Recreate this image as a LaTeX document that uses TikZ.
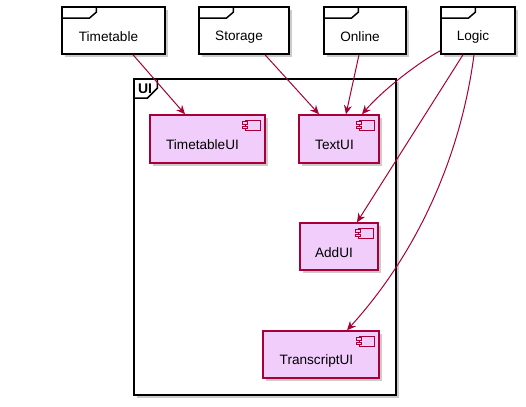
\documentclass[tikz,border=0pt]{standalone}
\usepackage{fontspec}
\setmainfont{Liberation Sans}
\usetikzlibrary{arrows.meta,calc,shadows}
\definecolor{crim}{HTML}{A80036}
\definecolor{compfill}{HTML}{F1CDFC}
\newcommand\cicon[1]{%
  \draw[crim, line width=1pt, fill=compfill] ($(#1.north east)+(-20,6)$) rectangle ++(15,10);
  \draw[crim, line width=1pt, fill=compfill] ($(#1.north east)+(-23,7.5)$) rectangle ++(5,2.5);
  \draw[crim, line width=1pt, fill=compfill] ($(#1.north east)+(-23,12)$) rectangle ++(5,2.5);
}
\newcommand\ftab[1]{%
  \draw[black, line width=1.5pt] ($(#1.north west)+(0,12)$) -- ++(28,0) -- ++(7,-6) -- ++(0,-6);
}
\begin{document}
\begin{tikzpicture}[x=1pt,y=-1pt,
  shad/.style={drop shadow={shadow xshift=3pt, shadow yshift=-3pt, fill=black!45, opacity=0.45}},
  frm/.style={draw=black, line width=1.5pt, fill=white, inner sep=0pt, shad},
  comp/.style={draw=crim, line width=1.5pt, fill=compfill, inner sep=0pt, shad},
  lbl/.style={inner sep=0pt, font=\fontsize{13.6}{16}\selectfont},
  arr/.style={draw=crim, line width=1pt, -{Stealth[length=9pt,width=8pt,inset=3pt]}}]
\useasboundingbox (0,0) rectangle (526,406);

% UI package
\node[frm, minimum width=262pt, minimum height=316pt] (ui) at (265,237) {};
\draw[black, line width=1.5pt] ($(ui.north west)+(0,20)$) -- ++(14,0) -- ++(10,-10) -- ++(0,-10);
\node[inner sep=0pt, font=\fontsize{14}{16}\selectfont\bfseries] (uil) at (145,89) {UI};

% frames
\node[frm, minimum width=103pt, minimum height=47pt] (tt) at (113.5,30.5) {};
\node[frm, minimum width=90pt, minimum height=47pt] (st) at (244,30.5) {};
\node[frm, minimum width=82pt, minimum height=47pt] (on) at (365,30.5) {};
\node[frm, minimum width=74pt, minimum height=47pt] (lg) at (478,30.5) {};
\ftab{tt}\ftab{st}\ftab{on}\ftab{lg}
\node[lbl] (ttl) at (108.5,37) {Timetable};
\node[lbl] (stl) at (239,37) {Storage};
\node[lbl] (onl) at (360,37) {Online};
\node[lbl] (lgl) at (473,37) {Logic};

% components
\node[comp, minimum width=115pt, minimum height=48pt] (tui) at (207.5,139) {};
\node[comp, minimum width=80pt, minimum height=48pt] (xui) at (339,139) {};
\node[comp, minimum width=78pt, minimum height=47pt] (aui) at (339,246.5) {};
\node[comp, minimum width=116pt, minimum height=47pt] (rui) at (321,354.5) {};
\cicon{tui}\cicon{xui}\cicon{aui}\cicon{rui}
\node[lbl] (tuil) at (202.5,145) {TimetableUI};
\node[lbl] (xuil) at (334.5,145) {TextUI};
\node[lbl] (auil) at (334,253) {AddUI};
\node[lbl] (ruil) at (316.5,361) {TranscriptUI};

% connectors
\draw[arr] ($(tt.south)+(19.5,0)$) -- ($(tui.north)+(-22.5,0)$);
\draw[arr] ($(st.south)+(21,0)$) -- ($(xui.north)+(-20,0)$);
\draw[arr] ($(on.south)+(-6,0)$) -- ($(xui.north)+(7,0)$);
\draw[arr] ($(lg.south west)+(0,-4)$) .. controls (416,64) and (382,91) .. ($(xui.north)+(23,0)$);
\draw[arr] ($(lg.south)+(-15,0)$) -- ($(aui.north)+(18,0)$);
\draw[arr] ($(lg.south)+(-4,0)$) .. controls (461,154) and (419,251) .. ($(rui.north)+(26,0)$);
\end{tikzpicture}
\end{document}
